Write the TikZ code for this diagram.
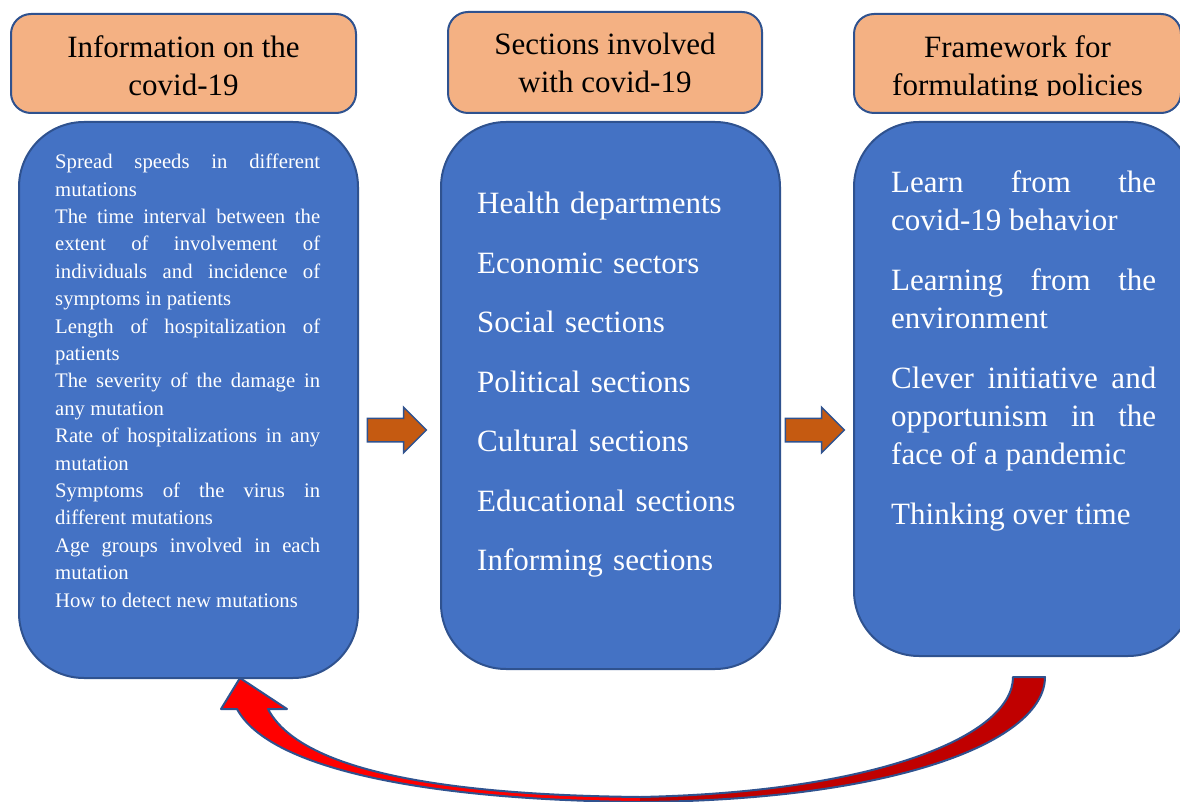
\documentclass[tikz,border=0pt]{standalone}
\usepackage{fontspec}
\setmainfont{Liberation Serif}
\usepackage{tikz}
\usetikzlibrary{positioning}
\usetikzlibrary{shapes.arrows}

\definecolor{headfill}{HTML}{F4B183}
\definecolor{boxfill}{HTML}{4472C4}
\definecolor{edgeblue}{HTML}{2F528F}
\definecolor{flowfill}{HTML}{C55A11}
\definecolor{loopred}{HTML}{FF0000}
\definecolor{loopdark}{HTML}{C00000}

\setlength{\parindent}{0pt}
\hyphenpenalty=10000
\exhyphenpenalty=10000

\begin{document}
\begin{tikzpicture}[x=1pt,y=-1pt,
	head text/.style={align=center,inner sep=0pt,text height=64pt,text depth=0pt,
		font=\fontsize{31}{38}\selectfont},
	head box/.style={head text,draw=edgeblue,line width=2pt,fill=headfill,
		rounded corners=20pt,anchor=north west},
	main box/.style={draw=edgeblue,line width=2pt,fill=boxfill,
		rounded corners=65pt,anchor=north west,minimum width=339pt,inner sep=0pt},
	box text/.style={text=white,text width=265pt,align=justify,inner sep=0pt},
	flow arrow/.style={single arrow,draw=edgeblue,line width=1.5pt,fill=flowfill,
		minimum height=59pt,single arrow head extend=11pt,
		inner xsep=0pt,inner ysep=11pt}]
	
	\useasboundingbox (0,0) rectangle (1180,802);
	\clip (0,0) rectangle (1180,802);
	
	% headers
	\node[head box,minimum width=345pt,minimum height=99pt] (infohead) at (10,13)
		{Information on the\\covid-19};
	\node[head box,text height=60pt,minimum width=314pt,minimum height=101pt]
		(secthead) at (447,11) {Sections involved\\with covid-19};
	\node[head box,minimum width=327pt,minimum height=99pt] (framehead) at (853,13) {};
	\begin{scope}
		% second line sits low, its descenders are cut off
		\clip (853,13) rectangle (1180,96);
		\node[head text] (frameheadtext) at (framehead.center)
			{Framework for\\formulating policies};
	\end{scope}
	
	% blue boxes
	\node[main box,minimum height=556pt] (info) at (18,121) {};
	\node[main box,minimum height=547pt] (sect) at (440,121) {};
	\node[main box,minimum height=534pt] (frame) at (853,121) {};
	
	\node[box text,font=\fontsize{20.7}{27.4}\selectfont,
		below right=33pt and 37pt of info.north west] (infotext) {%
		Spread speeds in different\linebreak mutations\par
		The time interval between the\linebreak extent of involvement of\linebreak
		individuals and incidence of\linebreak symptoms in patients\par
		Length of hospitalization of\linebreak patients\par
		The severity of the damage in\linebreak any mutation\par
		Rate of hospitalizations in any\linebreak mutation\par
		Symptoms of the virus in\linebreak different mutations\par
		Age groups involved in each\linebreak mutation\par
		How to detect new mutations};
	
	\node[box text,align=left,font=\fontsize{31}{59.5}\selectfont,
		below right=71pt and 37pt of sect.north west] (secttext) {%
		Health departments\par
		Economic sectors\par
		Social sections\par
		Political sections\par
		Cultural sections\par
		Educational sections\par
		Informing sections};
	
	\node[box text,font=\fontsize{31}{38}\selectfont,
		execute at begin node={\setlength{\parskip}{22pt}},
		below right=49pt and 38pt of frame.north west] (frametext) {%
		Learn from the\linebreak covid-19 behavior\par
		Learning from the\linebreak environment\par
		Clever initiative and\linebreak opportunism in the\linebreak face of a pandemic\par
		Thinking over time};
	
	% block arrows between the columns
	\node[flow arrow] (step1) at (391,430) {};
	\node[flow arrow] (step2) at (809,430) {};
	
	% feedback arrow back to the first column
	\fill[loopred] (240,678) -- (287,709) -- (268,709)
		.. controls (300,770) and (440,795) .. (640,797) -- (640,802)
		.. controls (430,800) and (270,770) .. (237,709) -- (221,709) -- cycle;
	\fill[loopdark] (640,797) .. controls (880,792) and (1013,735) .. (1013,677)
		-- (1045,677) .. controls (1045,740) and (900,800) .. (640,802) -- cycle;
	\draw[edgeblue,line width=2pt,line join=round] (240,678) -- (287,709) -- (268,709)
		.. controls (300,770) and (440,795) .. (640,797)
		.. controls (880,792) and (1013,735) .. (1013,677) -- (1045,677)
		.. controls (1045,740) and (900,800) .. (640,802)
		.. controls (430,800) and (270,770) .. (237,709) -- (221,709) -- cycle;
\end{tikzpicture}
\end{document}
